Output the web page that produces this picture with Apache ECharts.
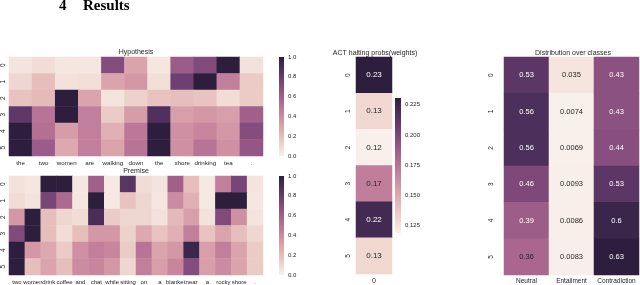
<!DOCTYPE html>
<html><head><meta charset="utf-8">
<script src="https://cdn.jsdelivr.net/npm/echarts@6/dist/echarts.min.js"></script>
<style>html,body{margin:0;padding:0;background:#fff}#c{width:640px;height:285px}</style>
</head><body><div id="c"></div>
<script>
// ---------- data ----------
const hypWords = ['the','two','women','are','walking','down','the','shore','drinking','tea','.'];
const premWords = ['two','women','drink','coffee','and','chat','while','sitting','on','a','blanket','near','a','rocky','shore','.'];
const stepLabels = ['0','1','2','3','4','5'];
const hypAttn = [
  [0.05,0.08,0.04,0.04,0.70,0.30,0.04,0.62,0.72,1.00,0.06],
  [0.10,0.20,0.06,0.07,0.30,0.35,0.07,0.78,1.00,0.45,0.15],
  [0.18,0.21,1.00,0.30,0.05,0.12,0.18,0.20,0.18,0.08,0.15],
  [0.83,0.50,1.00,0.45,0.15,0.33,0.88,0.32,0.35,0.32,0.60],
  [1.00,0.52,0.33,0.45,0.25,0.48,1.00,0.38,0.42,0.35,0.70],
  [1.00,0.62,0.28,0.45,0.30,0.50,1.00,0.38,0.50,0.38,0.65]
];
const premAttn = [
  [0.06,0.04,1.00,1.00,0.04,0.60,0.03,0.85,0.08,0.05,0.60,0.20,0.03,0.45,0.75,0.05],
  [0.08,0.05,0.75,0.55,0.04,1.00,0.03,0.18,0.10,0.04,0.40,0.25,0.03,1.00,1.00,0.04],
  [0.35,1.00,0.20,0.10,0.08,0.90,0.15,0.10,0.10,0.06,0.22,0.32,0.06,0.72,0.38,0.05],
  [0.72,1.00,0.20,0.08,0.20,0.35,0.35,0.12,0.28,0.18,0.25,0.45,0.18,0.30,0.20,0.10],
  [1.00,0.35,0.28,0.15,0.38,0.45,0.42,0.15,0.50,0.30,0.35,0.95,0.32,0.45,0.30,0.15],
  [1.00,0.20,0.30,0.20,0.40,0.42,0.35,0.10,0.45,0.32,0.42,0.70,0.32,0.40,0.30,0.15]
];
const actLabels = ['0'];
const actProbs = [0.2305,0.13,0.119,0.17,0.222,0.13];
const classNames = ['Neutral','Entailment','Contradiction'];
const neutral = [0.53,0.56,0.56,0.46,0.39,0.36];
const entailment = [0.035,0.0074,0.0069,0.0093,0.0086,0.0083];
const contradiction = [0.43,0.43,0.44,0.53,0.6,0.63];
const unitTicks = [0,0.2,0.4,0.6,0.8,1.0];
const actTicks = [0.125,0.15,0.175,0.2,0.225];

// ---------- colormap (seaborn cubehelix, light -> dark) ----------
function cube(t){
  const x = 0.95 + (0.15-0.95)*t;
  const a = 0.8*x*(1-x)/2, phi = 2*Math.PI*(0.4*x);
  const c = Math.cos(phi), s = Math.sin(phi);
  const cl = v => Math.max(0, Math.min(1, v));
  return [cl(x + a*(-0.14861*c + 1.78277*s)), cl(x + a*(-0.29227*c - 0.90649*s)), cl(x + a*(1.97294*c))];
}
const toHex = rgb => '#' + rgb.map(v => Math.round(v*255).toString(16).padStart(2,'0')).join('');
const stops = [];
for (let i = 0; i <= 32; i++) stops.push(toHex(cube(i/32)));
// HLS lightness decides annotation colour
const light = rgb => (Math.max(...rgb) + Math.min(...rgb)) / 2;
const txtColor = (v, mn, mx) => light(cube((v-mn)/(mx-mn))) > 0.5 ? '#262626' : '#ffffff';
const fmt2g = v => String(Number(v.toPrecision(2)));

const FONT = '"Liberation Sans", Arial, sans-serif';
const TXT = '#262626';

// ---------- series data ----------
function matData(m){ const d=[]; m.forEach((row,r)=>row.forEach((v,c)=>d.push([c,r,v]))); return d; }
const actMin = Math.min(...actProbs), actMax = Math.max(...actProbs);
const actData = actProbs.map((v,r)=>({value:[0,r,v], label:{color:txtColor(v,actMin,actMax)}}));
const distCols = [neutral, entailment, contradiction];
const allDist = distCols.flat();
const dMin = Math.min(...allDist), dMax = Math.max(...allDist);
const distData = [];
distCols.forEach((col,c)=>col.forEach((v,r)=>distData.push({value:[c,r,v], label:{color:txtColor(v,dMin,dMax)}})));

// ---------- layout ----------
const grids = [
  {left:9, top:57, width:254, height:99},   // 0 hypothesis
  {left:9, top:176, width:254, height:99},  // 1 premise
  {left:356, top:57, width:36, height:218}, // 2 act
  {left:504, top:57, width:135, height:218},// 3 dist
  {left:279, top:57, width:5, height:99},   // 4 hyp cbar
  {left:279, top:176, width:5, height:99},  // 5 prem cbar
  {left:395, top:98, width:6, height:135}   // 6 act cbar
];
function catX(grid, data, fs, margin){
  return {type:'category', gridIndex:grid, data:data, position:'bottom',
    axisLine:{show:false}, axisTick:{show:false}, splitLine:{show:false},
    axisLabel:{interval:0, fontSize:fs, color:TXT, fontFamily:FONT, margin:margin}};
}
function catY(grid, margin){
  return {type:'category', gridIndex:grid, data:stepLabels, inverse:true,
    axisLine:{show:false}, axisTick:{show:false}, splitLine:{show:false},
    axisLabel:{rotate:90, fontSize:6.5, color:TXT, fontFamily:FONT, margin:margin}};
}
const xAxes = [
  catX(0, hypWords, 6.2, 4), catX(1, premWords, 6, 4), catX(2, actLabels, 7, 4), catX(3, classNames, 6.5, 3),
  {type:'category', gridIndex:4, data:['c'], show:false},
  {type:'category', gridIndex:5, data:['c'], show:false},
  {type:'category', gridIndex:6, data:['c'], show:false}
];
function cbY(grid){ return {type:'value', gridIndex:grid, min:0, max:1, show:false}; }
function lblY(grid, mn, mx, ticks, dec){
  return {type:'value', gridIndex:grid, position:'right', min:mn, max:mx,
    axisLine:{show:false}, axisTick:{show:false}, splitLine:{show:false},
    axisLabel:{customValues:ticks, fontSize:6, color:TXT, fontFamily:FONT, margin:4,
      formatter:v=>v.toFixed(dec)}};
}
const yAxes = [
  catY(0,2), catY(1,2), catY(2,4), catY(3,9),
  cbY(4), cbY(5), cbY(6),
  lblY(4,0,1,unitTicks,1), lblY(5,0,1,unitTicks,1), lblY(6,actMin,actMax,actTicks,3)
];
const grad = () => new echarts.graphic.LinearGradient(0,1,0,0, stops.map((c,i)=>({offset:i/(stops.length-1), color:c})));
function cbSeries(i){
  return {type:'bar', xAxisIndex:4+i, yAxisIndex:4+i, data:[1], barWidth:'100%', silent:true,
    itemStyle:{color:grad()}, animation:false};
}
const hmBase = {type:'heatmap', itemStyle:{borderWidth:0}, emphasis:{disabled:true}, silent:true, animation:false, progressive:0};
const series = [
  Object.assign({}, hmBase, {xAxisIndex:0, yAxisIndex:0, data:matData(hypAttn)}),
  Object.assign({}, hmBase, {xAxisIndex:1, yAxisIndex:1, data:matData(premAttn)}),
  Object.assign({}, hmBase, {xAxisIndex:2, yAxisIndex:2, data:actData,
    label:{show:true, fontSize:8, fontFamily:FONT, formatter:p=>fmt2g(p.value[2])}}),
  Object.assign({}, hmBase, {xAxisIndex:3, yAxisIndex:3, data:distData,
    label:{show:true, fontSize:7.5, fontFamily:FONT, formatter:p=>fmt2g(p.value[2])}}),
  cbSeries(0), cbSeries(1), cbSeries(2)
];
const visualMaps = [
  {show:false, seriesIndex:0, dimension:2, min:0, max:1, inRange:{color:stops}},
  {show:false, seriesIndex:1, dimension:2, min:0, max:1, inRange:{color:stops}},
  {show:false, seriesIndex:2, dimension:2, min:actMin, max:actMax, inRange:{color:stops}},
  {show:false, seriesIndex:3, dimension:2, min:dMin, max:dMax, inRange:{color:stops}}
];
const tText = (text, x, y) => ({type:'text', x:x, y:y, silent:true,
  style:{text:text, align:'center', verticalAlign:'middle', fontSize:7, fontFamily:FONT, fill:TXT}});
const SERIF = '"Liberation Serif", "Times New Roman", serif';
const graphics = [
  {type:'text', x:59, y:6.5, silent:true, style:{text:'4', align:'left', verticalAlign:'middle', fontSize:15, fontWeight:'bold', fontFamily:SERIF, fill:'#000'}},
  {type:'text', x:83, y:6.5, silent:true, style:{text:'Results', align:'left', verticalAlign:'middle', fontSize:15, fontWeight:'bold', fontFamily:SERIF, fill:'#000'}},
  tText('Hypothesis', 136, 52.5),
  tText('Premise', 136, 171),
  tText('ACT halting probs(weights)', 375, 53),
  tText('Distribution over classes', 573, 53)
];

const chart = echarts.init(document.getElementById('c'), null, {renderer:'canvas'});
chart.setOption({
  backgroundColor:'#ffffff', animation:false,
  grid:grids, xAxis:xAxes, yAxis:yAxes, visualMap:visualMaps, series:series, graphic:graphics
});
</script></body></html>
